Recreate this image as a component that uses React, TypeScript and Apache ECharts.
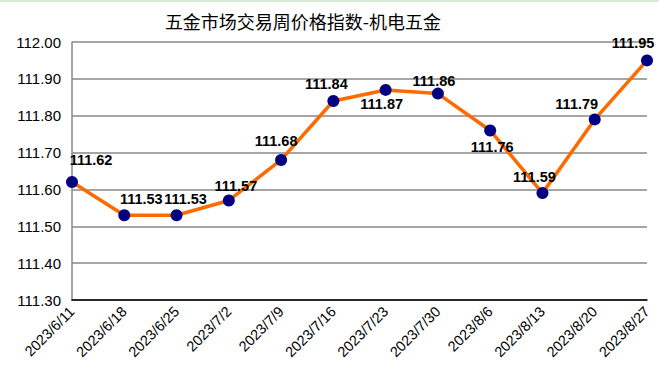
import React, { useEffect, useRef } from "react";
import * as echarts from "echarts";

const title = "五金市场交易周价格指数-机电五金";
const categories = [
  "2023/6/11", "2023/6/18", "2023/6/25", "2023/7/2", "2023/7/9", "2023/7/16",
  "2023/7/23", "2023/7/30", "2023/8/6", "2023/8/13", "2023/8/20", "2023/8/27",
];
const values = [111.62, 111.53, 111.53, 111.57, 111.68, 111.84, 111.87, 111.86, 111.76, 111.59, 111.79, 111.95];
const labelOffsets: [number, number][] = [
  [19, -22], [17, -16], [9, -16], [7, -14], [-5, -19], [-7, -17],
  [-4, 14], [-4, -13], [2, 17], [-8, -16], [-18, -15], [-14, -17],
];

export default function App() {
  const ref = useRef<HTMLDivElement>(null);
  useEffect(() => {
    document.body.style.margin = "0";
    const chart = echarts.init(ref.current!, undefined, { renderer: "svg" });
    chart.setOption({
      animation: false,
      backgroundColor: "#ffffff",
      title: {
        text: title,
        left: 298,
        textAlign: "center",
        top: 7,
        textStyle: { fontFamily: "Noto Sans CJK SC", fontSize: 18, fontWeight: "normal", color: "#000" },
      },
      graphic: [
        { type: "rect", shape: { x: 0, y: 0, width: 659, height: 2 }, style: { fill: "#d6ead6" } },
      ],
      grid: { left: 72, right: 12, top: 42, bottom: 83 },
      xAxis: {
        type: "category",
        data: categories,
        boundaryGap: false,
        axisLine: { lineStyle: { color: "#000", width: 1.5 } },
        axisTick: { show: false },
        axisLabel: {
          rotate: 45,
          interval: 0,
          margin: 9,
          fontFamily: "Liberation Sans",
          fontSize: 14.5,
          color: "#000",
        },
      },
      yAxis: {
        type: "value",
        min: 111.3,
        max: 112.0,
        interval: 0.1,
        axisLine: { show: true, lineStyle: { color: "#888", width: 1.5 } },
        axisTick: { show: false },
        splitLine: { lineStyle: { color: "#888", width: 1.5 } },
        axisLabel: {
          margin: 11,
          fontFamily: "Liberation Sans",
          fontSize: 15,
          color: "#000",
          formatter: (v: number) => v.toFixed(2),
        },
      },
      series: [
        {
          type: "line",
          data: values.map((v, i) => ({
            value: v,
            label: { offset: labelOffsets[i] },
          })),
          symbol: "circle",
          symbolSize: 12,
          itemStyle: { color: "#000080" },
          lineStyle: { color: "#ff6a00", width: 3.5 },
          label: {
            show: true,
            position: "inside",
            fontFamily: "Liberation Sans",
            fontSize: 14.5,
            fontWeight: "bold",
            color: "#000",
            formatter: (p: any) => p.value.toFixed(2),
          },
        },
      ],
    });
    return () => chart.dispose();
  }, []);
  return <div ref={ref} style={{ width: 659, height: 383 }} />;
}
